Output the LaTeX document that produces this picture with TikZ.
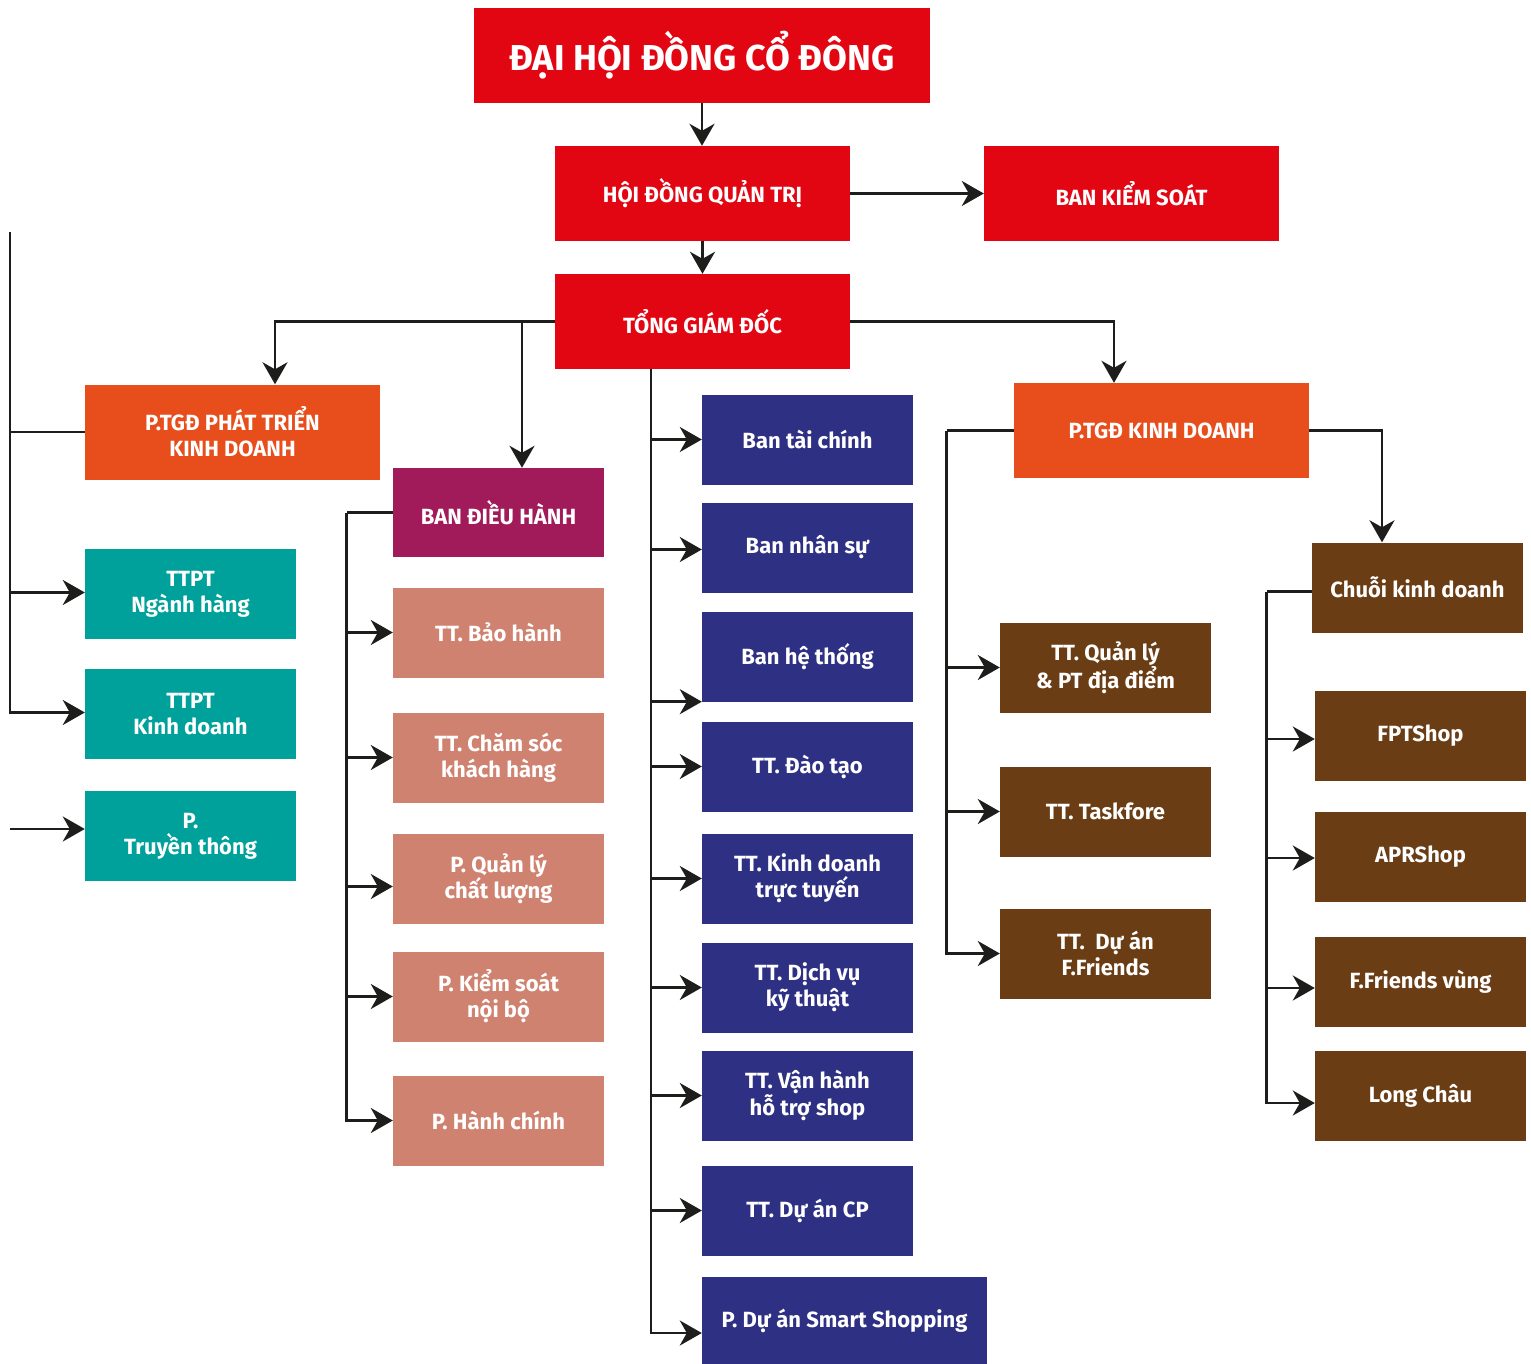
\documentclass[tikz,border=0pt]{standalone}
\usepackage{fontspec}
\setmainfont{Fira Sans}
\usetikzlibrary{arrows.meta}

\definecolor{fptred}{HTML}{E20613}
\definecolor{fptorange}{HTML}{E84E1C}
\definecolor{fptpurple}{HTML}{A11A59}
\definecolor{fptteal}{HTML}{00A19A}
\definecolor{fptsalmon}{HTML}{D08270}
\definecolor{fptnavy}{HTML}{2E3083}
\definecolor{fptbrown}{HTML}{6A3D15}
\definecolor{linkcol}{HTML}{1D1D1B}

\tikzset{
  box/.style={rectangle, inner sep=0pt, text=white, align=center,
    font=\bfseries\fontsize{22}{26}\selectfont,
    minimum width=211pt, minimum height=90pt},
  bigbox/.style={box, minimum width=295pt, minimum height=95pt},
  redbox/.style={bigbox, fill=fptred},
  orangebox/.style={bigbox, fill=fptorange},
  purplebox/.style={box, fill=fptpurple},
  tealbox/.style={box, fill=fptteal},
  salmonbox/.style={box, fill=fptsalmon},
  navybox/.style={box, fill=fptnavy},
  brownbox/.style={box, fill=fptbrown},
  link/.style={draw=linkcol, line width=2.7pt},
  arr/.style={link, -{Stealth[length=22pt,width=25pt,inset=7pt]}}
}

\begin{document}
\begin{tikzpicture}[x=1pt, y=-1pt]
    \useasboundingbox (0,0) rectangle (1531,1364);

    % Top of the chart
    \node[redbox, minimum width=456pt, font=\bfseries\fontsize{36}{40}\selectfont] (dhcd) at (702,55.5) {ĐẠI HỘI ĐỒNG CỔ ĐÔNG};
    \node[redbox] (hdqt) at (702.5,193.5) {HỘI ĐỒNG QUẢN TRỊ};
    \node[redbox] (bks) at (1131.5,193.5) {BAN KIỂM SOÁT};
    \node[redbox] (tgd) at (702.5,321.5) {TỔNG GIÁM ĐỐC};

    % Deputy general directors
    \node[orangebox] (ptgdpt) at (232.5,432) {P.TGĐ PHÁT TRIỂN\\KINH DOANH};
    \node[orangebox] (ptgdkd) at (1161.5,430.5) {P.TGĐ KINH DOANH};

    % Left column
    \node[tealbox] (ttnh) at (190.5,594) {TTPT\\Ngành hàng};
    \node[tealbox] (ttkd) at (190.5,714) {TTPT\\Kinh doanh};
    \node[tealbox] (ptt) at (190.5,836) {P.\\Truyền thông};

    % Ban dieu hanh column
    \node[purplebox, minimum height=89pt] (bdh) at (498.5,512.5) {BAN ĐIỀU HÀNH};
    \node[salmonbox] (s1) at (498.5,632.5) {TT. Bảo hành};
    \node[salmonbox] (s2) at (498.5,757.5) {TT. Chăm sóc\\khách hàng};
    \node[salmonbox] (s3) at (498.5,878.5) {P. Quản lý\\chất lượng};
    \node[salmonbox] (s4) at (498.5,996.5) {P. Kiểm soát\\nội bộ};
    \node[salmonbox] (s5) at (498.5,1120.5) {P. Hành chính};

    % Centre column
    \node[navybox] (b1) at (807.5,439.5) {Ban tài chính};
    \node[navybox] (b2) at (807.5,547.5) {Ban nhân sự};
    \node[navybox] (b3) at (807.5,656.5) {Ban hệ thống};
    \node[navybox] (b4) at (807.5,766.5) {TT. Đào tạo};
    \node[navybox] (b5) at (807.5,878.5) {TT. Kinh doanh\\trực tuyến};
    \node[navybox] (b6) at (807.5,987.5) {TT. Dịch vụ\\kỹ thuật};
    \node[navybox] (b7) at (807.5,1095.5) {TT. Vận hành\\hỗ trợ shop};
    \node[navybox] (b8) at (807.5,1210.5) {TT. Dự án CP};
    \node[navybox, minimum width=285pt, minimum height=89pt] (b9) at (844.5,1321) {P. Dự án Smart Shopping};

    % Kinh doanh columns
    \node[brownbox] (k1) at (1105.5,667.5) {TT. Quản lý\\\& PT địa điểm};
    \node[brownbox] (k2) at (1105.5,811.5) {TT. Taskfore};
    \node[brownbox] (k3) at (1105.5,953.5) {TT.~ Dự án\\F.Friends};
    \node[brownbox] (chuoi) at (1417.5,587.5) {Chuỗi kinh doanh};
    \node[brownbox] (c1) at (1420.5,735.5) {FPTShop};
    \node[brownbox] (c2) at (1420.5,856.5) {APRShop};
    \node[brownbox] (c3) at (1420.5,981.5) {F.Friends vùng};
    \node[brownbox] (c4) at (1420.5,1095.5) {Long Châu};

    % Top links
    \draw[arr] (dhcd.south) -- (dhcd.south |- hdqt.north);
    \draw[arr] (hdqt) -- (bks);
    \draw[arr] (hdqt) -- (tgd);
    \draw[arr] (tgd.west) -| ([xshift=42.5]ptgdpt.north);
    \coordinate (bdhin) at ([xshift=23.5]bdh.north);
    \draw[arr] (tgd.west -| bdhin) -- (bdhin);
    \draw[arr] (tgd.east) -| ([xshift=-47.5]ptgdkd.north);

    % Left edge
    \coordinate (lt) at (10,232);
    \coordinate (lb) at (10,829);
    \draw[arr] (lt) |- ([yshift=1.5]ttkd.west);
    \draw[link] (lt |- ptgdpt.west) -- (ptgdpt.west);
    \coordinate (tgt) at ([yshift=1.5]ttnh.west);
    \draw[arr] (lt |- tgt) -- (tgt);
    \draw[arr] (lb) -- (lb -| ptt.west);

    % Ban dieu hanh branches
    \draw[link] (bdh.west) -- ++(-46,0) coordinate (bd);
    \draw[arr] (bd) |- (s5.west);
    \foreach \n/\dy in {s1/0, s2/0, s3/-8, s4/0} {
        \coordinate (tgt) at ([yshift=\dy]\n.west);
        \draw[arr] (bd |- tgt) -- (tgt);
    }

    % Centre trunk
    \coordinate (tk) at ([xshift=-51.5]tgd.south);
    \draw[arr] (tk) |- ([yshift=-12]b9.west);
    \foreach \n/\dy in {b1/0, b2/-2, b4/0, b5/0, b6/0, b7/0, b8/0} {
        \coordinate (tgt) at ([yshift=\dy]\n.west);
        \draw[arr] (tk |- tgt) -- (tgt);
    }
    \draw[arr] (tk |- b3.south west) -- (b3.south west);

    % P.TGD kinh doanh branches
    \draw[link] (ptgdkd.west) -- ++(-67,0) coordinate (kd);
    \draw[arr] (kd) |- (k3.west);
    \foreach \n in {k1,k2}
        \draw[arr] (kd |- \n.west) -- (\n.west);
    \draw[arr] (ptgdkd.east) -| ([xshift=-35.5]chuoi.north);

    % Chuoi kinh doanh branches
    \draw[link] ([yshift=-4]chuoi.west) -- ++(-45,0) coordinate (ch);
    \draw[arr] (ch) |- ([yshift=-7.5]c4.west);
    \foreach \n/\dy in {c1/-3.5, c2/-1.5, c3/-6.5} {
        \coordinate (tgt) at ([yshift=\dy]\n.west);
        \draw[arr] (ch |- tgt) -- (tgt);
    }
\end{tikzpicture}
\end{document}
